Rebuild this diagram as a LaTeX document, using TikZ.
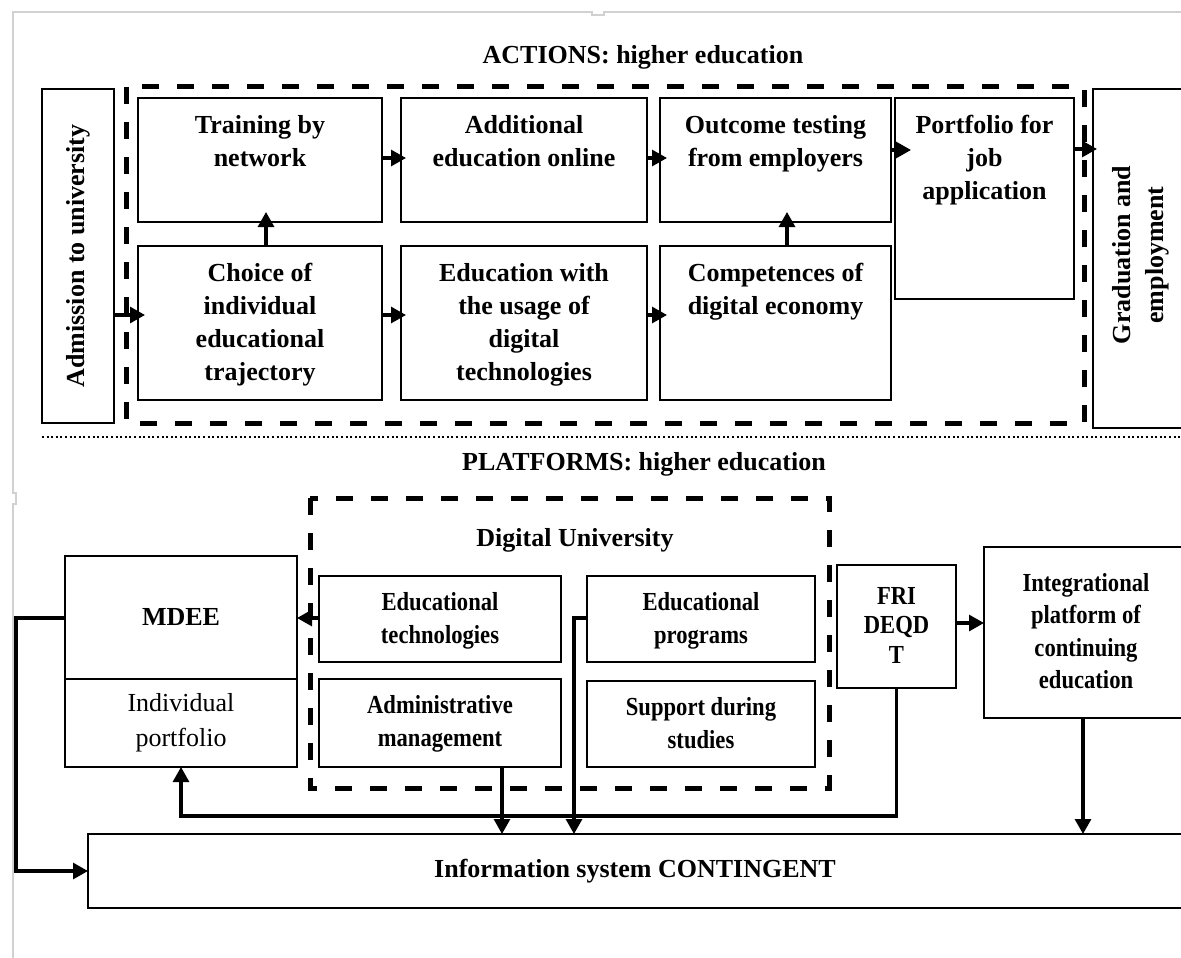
\documentclass[tikz,border=0pt]{standalone}
\usepackage{fontspec}
\setmainfont{Liberation Serif}
\newfontfamily\condserif{Liberation Serif}[FakeStretch=0.87]
\usetikzlibrary{arrows.meta}

\tikzset{
  box/.style={draw, line width=1.6pt, inner sep=0pt, outer sep=0pt, anchor=north west},
  lbl/.style={font=\bfseries\fontsize{26}{33}\selectfont, align=center, inner sep=0pt},
  clbl/.style={font=\condserif\bfseries\fontsize{26}{33}\selectfont, align=center, inner sep=0pt},
  reglbl/.style={font=\fontsize{26}{35}\selectfont, align=center, inner sep=0pt},
  arr/.style={line width=3.1pt, -{Triangle[length=15pt,width=16pt]}},
  dashframe/.style={line width=5pt, dash pattern=on 17pt off 18pt},
  dotline/.style={line width=2.6pt, dash pattern=on 2pt off 2.6pt},
  pageframe/.style={draw=black!18, line width=1.5pt},
}

\begin{document}
\begin{tikzpicture}[x=1pt,y=-1pt]
\useasboundingbox (0,0) rectangle (1181,958);
\clip (0,0) rectangle (1181,958);

% page frame
\draw[pageframe] (1185,12) -- (604,12) -- (604,15) -- (592,15) -- (592,12) -- (13,12)
  -- (13,493) -- (16,493) -- (16,504) -- (13,504) -- (13,962);

% ---------------- ACTIONS ----------------
\node[lbl, anchor=base] (actions-t) at (643,64) {ACTIONS: higher education};
\draw[dashframe] (126,87) rectangle (1084,423);

\node[box, minimum width=72pt, minimum height=334pt] (adm) at (42,89) {};
\node[lbl, rotate=90] (adm-t) at (adm.center) {Admission to university};

\node[box, minimum width=244pt, minimum height=124pt] (training) at (138,98) {};
\node[box, minimum width=246pt, minimum height=124pt] (additional) at (401,98) {};
\node[box, minimum width=231pt, minimum height=124pt] (outcome) at (660,98) {};
\node[box, minimum width=179pt, minimum height=201pt] (portfolio) at (895,98) {};
\node[box, minimum width=244pt, minimum height=154pt] (choice) at (138,246) {};
\node[box, minimum width=246pt, minimum height=154pt] (eduwith) at (401,246) {};
\node[box, minimum width=231pt, minimum height=154pt] (compet) at (660,246) {};
\node[box, minimum width=100pt, minimum height=339pt] (grad) at (1093,89) {};

\node[lbl, anchor=north] (training-t) at ([yshift=-17pt]training.north) {Training by\\network};
\node[lbl, anchor=north] (additional-t) at ([yshift=-17pt]additional.north) {Additional\\education online};
\node[lbl, anchor=north] (outcome-t) at ([yshift=-17pt]outcome.north) {Outcome testing\\from employers};
\node[lbl, anchor=north] (portfolio-t) at ([yshift=-17pt]portfolio.north) {Portfolio for\\job\\application};
\node[lbl, anchor=north] (choice-t) at ([yshift=-17pt]choice.north) {Choice of\\individual\\educational\\trajectory};
\node[lbl, anchor=north] (eduwith-t) at ([yshift=-17pt]eduwith.north) {Education with\\the usage of\\digital\\technologies};
\node[lbl, anchor=north] (compet-t) at ([yshift=-17pt]compet.north) {Competences of\\digital economy};
\node[lbl, rotate=90] (grad-t) at (1141,255) {Graduation and\\employment};

% flow of the upper section
\coordinate (yB) at (0,315);
\coordinate (yT) at (0,158);
\coordinate (yP) at (0,150);
\coordinate (yG) at (0,149);
\coordinate (xA) at (266,0);
\coordinate (xB) at (787,0);
\draw[arr, shorten >=-7pt] (adm.east |- yB) -- (choice.west |- yB);
\draw[arr, shorten >=-5pt] (choice.east |- yB) -- (eduwith.west |- yB);
\draw[arr, shorten >=-7pt] (eduwith.east |- yB) -- (compet.west |- yB);
\draw[arr, shorten >=-5pt] (training.east |- yT) -- (additional.west |- yT);
\draw[arr, shorten >=-7pt] (additional.east |- yT) -- (outcome.west |- yT);
\draw[arr, shorten >=-10pt] (choice.north -| xA) -- (training.south -| xA);
\draw[arr, shorten >=-10pt] (compet.north -| xB) -- (outcome.south -| xB);
\draw[arr, shorten >=-16pt] (outcome.east |- yP) -- (portfolio.west |- yP);
\draw[arr, shorten >=-4pt] (portfolio.east |- yG) -- (grad.west |- yG);

\draw[dotline] (42,437) -- (1185,437);

% ---------------- PLATFORMS ----------------
\node[lbl, anchor=base] (platforms-t) at (644,470) {PLATFORMS: higher education};
\draw[dashframe] (310,498) rectangle (829,788);
\node[lbl, anchor=base] (digital-t) at (575,546) {Digital University};

\node[box, minimum width=232pt, minimum height=211pt] (mdee) at (65,556) {};
\draw[line width=1.6pt] ([yshift=-123pt]mdee.north west) -- ([yshift=-123pt]mdee.north east);
\node[lbl, anchor=base] (mdee-t) at (181,625) {MDEE};
\node[reglbl, anchor=north] (mdee-p) at (181,693) {Individual\\portfolio};

\node[box, minimum width=242pt, minimum height=86pt] (edtech) at (319,576) {};
\node[box, minimum width=242pt, minimum height=88pt] (admin) at (319,679) {};
\node[box, minimum width=228pt, minimum height=86pt] (edprog) at (587,576) {};
\node[box, minimum width=228pt, minimum height=86pt] (support) at (587,681) {};
\node[box, minimum width=119pt, minimum height=123pt] (fri) at (837,565) {};
\node[box, minimum width=206pt, minimum height=171pt] (integ) at (984,547) {};
\node[box, minimum width=1102pt, minimum height=74pt] (info) at (88,834) {};

\node[clbl, anchor=north] (edtech-t) at ([yshift=-16pt]edtech.north) {Educational\\technologies};
\node[clbl, anchor=north] (admin-t) at ([yshift=-16pt]admin.north) {Administrative\\management};
\node[clbl, anchor=north] (edprog-t) at ([yshift=-16pt]edprog.north) {Educational\\programs};
\node[clbl, anchor=north] (support-t) at ([yshift=-16pt]support.north) {Support during\\studies};
\node[clbl, anchor=north, font=\condserif\bfseries\fontsize{26}{29.5}\selectfont] (fri-t) at ([yshift=-22pt]fri.north) {FRI\\DEQD\\T};
\node[clbl, anchor=north, font=\condserif\bfseries\fontsize{26}{32.5}\selectfont] (integ-t) at (1086,573) {Integrational\\platform of\\continuing\\education};
\node[lbl, anchor=base] (info-t) at (635,877) {Information system CONTINGENT};

% flow of the lower section
\coordinate (yM) at (0,618);
\coordinate (yF) at (0,816);
\coordinate (yI) at (0,623);
\coordinate (xL) at (16,0);
\coordinate (xP) at (574,0);
\coordinate (xD) at (502,0);
\coordinate (xI) at (1083,0);
\draw[arr] (edtech.west |- yM) -- (mdee.east |- yM);
\draw[arr] (mdee.west |- yM) -| (xL |- info.west) -- (info.west);
\draw[arr] (edprog.west |- yM) -| (info.north -| xP);
\draw[arr] (admin.south -| xD) -- (info.north -| xD);
\draw[arr] (fri.south) |- (mdee.south |- yF) -- (mdee.south);
\draw[arr] (fri.east |- yI) -- (integ.west |- yI);
\draw[arr] (integ.south -| xI) -- (info.north -| xI);
\end{tikzpicture}
\end{document}
